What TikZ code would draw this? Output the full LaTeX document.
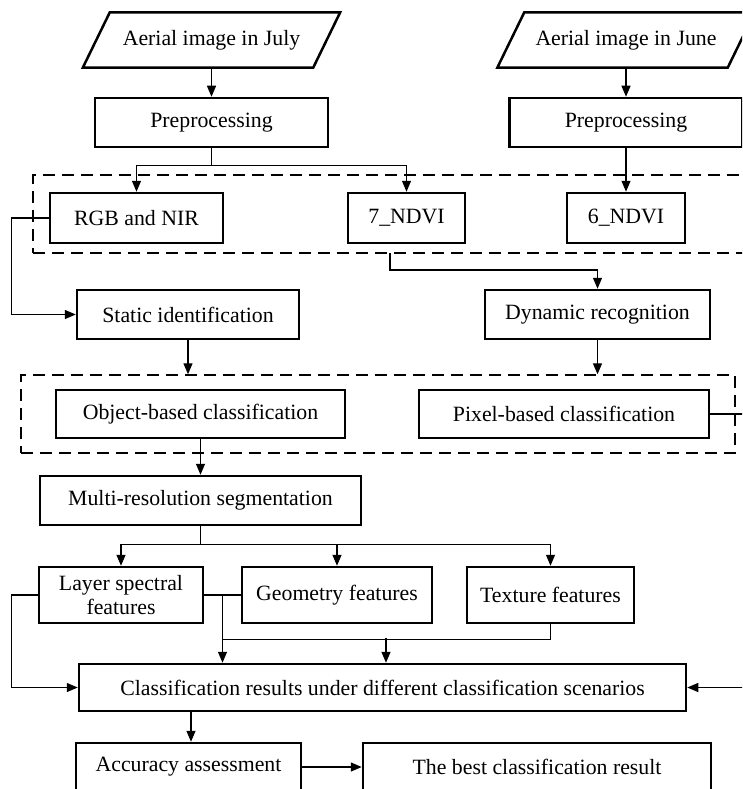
\documentclass[tikz,border=0pt]{standalone}
\usepackage{fontspec}
\setmainfont{Liberation Serif}
\usetikzlibrary{arrows.meta,calc}
\begin{document}
\begin{tikzpicture}[x=1pt,y=-1pt,
  txt/.style={font=\fontsize{21.8}{24}\selectfont, align=center, inner sep=0pt},
  box/.style={txt, draw, line width=2.5pt, minimum width=#1, minimum height=49pt},
  para/.style={txt, minimum width=230pt, minimum height=55pt},
  bord/.style={line width=2.5pt, line join=miter},
  grp/.style={draw, line width=1.4pt, dash pattern=on 12pt off 7pt, minimum width=#1, minimum height=78pt, inner sep=0pt},
  arr/.style={line width=1.3pt, -{Triangle[length=11pt,width=9pt]}},
  ln/.style={line width=1.3pt}]
\useasboundingbox (0,0) rectangle (742,789);
\clip (0,0) rectangle (742,789);

% groups
\node[grp=732pt] (dash1) at (399,214) {};
\node[grp=714pt] (dash2) at (378,414) {};

% inputs
\node[para] (jul) at (211.5,40) {Aerial image in July};
\draw[bord] ([xshift=13.5pt]jul.north west) -- ([xshift=13.5pt]jul.north east) -- ([xshift=-13.5pt]jul.south east) -- ([xshift=-13.5pt]jul.south west) -- cycle;
\node[para] (jun) at (626,40) {Aerial image in June};
\draw[bord] ([xshift=13.5pt]jun.north west) -- ([xshift=13.5pt]jun.north east) -- ([xshift=-13.5pt]jun.south east) -- ([xshift=-13.5pt]jun.south west) -- cycle;

% boxes
\node[box=233pt] (pre1) at (211.5,122.5) {Preprocessing};
\node[box=233pt] (pre2) at (626,122.5) {Preprocessing};
\node[box=173pt, minimum height=50pt] (rgb) at (136.5,218) {RGB and NIR};
\node[box=117pt, minimum height=50pt] (n7) at (406.5,218) {7\_NDVI};
\node[box=118pt, minimum height=50pt] (n6) at (626,218) {6\_NDVI};
\node[box=222pt] (stat) at (188,314.5) {Static identification};
\node[box=225pt] (dyn) at (597.5,314.5) {Dynamic recognition};
\node[box=289pt, minimum height=48pt] (obj) at (200.5,414) {Object-based classification};
\node[box=290pt, minimum height=48pt] (pix) at (564,414) {Pixel-based classification};
\node[box=321pt] (multi) at (200.5,500.5) {Multi-resolution segmentation};
\node[box=164pt, minimum height=56pt] (layer) at (121,595) {Layer spectral\\features};
\node[box=190pt, minimum height=56pt] (geo) at (337,595) {Geometry features};
\node[box=167pt, minimum height=56pt] (tex) at (550.5,595) {Texture features};
\node[box=607pt, minimum height=47pt] (cls) at (382.5,687.5) {Classification results under different classification scenarios};
\node[box=225pt, minimum height=48pt] (acc) at (188.5,767) {Accuracy assessment};
\node[box=348pt, minimum height=48pt] (best) at (537,767) {The best classification result};

% connectors
\draw[arr] (jul.south) -- (pre1.north);
\draw[arr] (jun.south) -- (pre2.north);
\draw[arr] (pre1.south) -- ++(0,17) -| (rgb.north);
\draw[arr] (pre1.south) -- ++(0,17) -| (n7.north);
\draw[arr] (pre2.south) -- (n6.north);
\draw[arr] (rgb.west) -- ++(-37,0) |- (stat.west);
\coordinate (d1out) at (390,253);
\draw[arr] (d1out) -- ++(0,17) -| (dyn.north);
\draw[arr] (stat.south) -- (stat.south |- dash2.north);
\draw[arr] (dyn.south) -- (dyn.south |- dash2.north);
\draw[arr] (obj.south) -- (multi.north);
\draw[arr] (multi.south) -- ++(0,18) -| (layer.north);
\draw[arr] (multi.south) -- ++(0,18) -| (geo.north);
\draw[arr] (multi.south) -- ++(0,18) -| (tex.north);
\draw[arr] (layer.west) -- ++(-26,0) |- (cls.west);
\draw[ln] (layer.east) -- (geo.west);
\coordinate (fj) at ($(layer.east)!0.5!(geo.west)$);
\draw[arr] (fj) -- (fj |- cls.north);
\draw[ln] (tex.south) -- ++(0,15) -| (fj);
\coordinate (cj) at (386,638);
\draw[arr] (cj) -- (cj |- cls.north);
\draw[arr] ([xshift=2.5pt]acc.north |- cls.south) -- ([xshift=2.5pt]acc.north);
\draw[arr] (acc.east) -- (best.west);
\draw[arr] (pix.east) -- ++(45,0) |- (cls.east);
\end{tikzpicture}
\end{document}
